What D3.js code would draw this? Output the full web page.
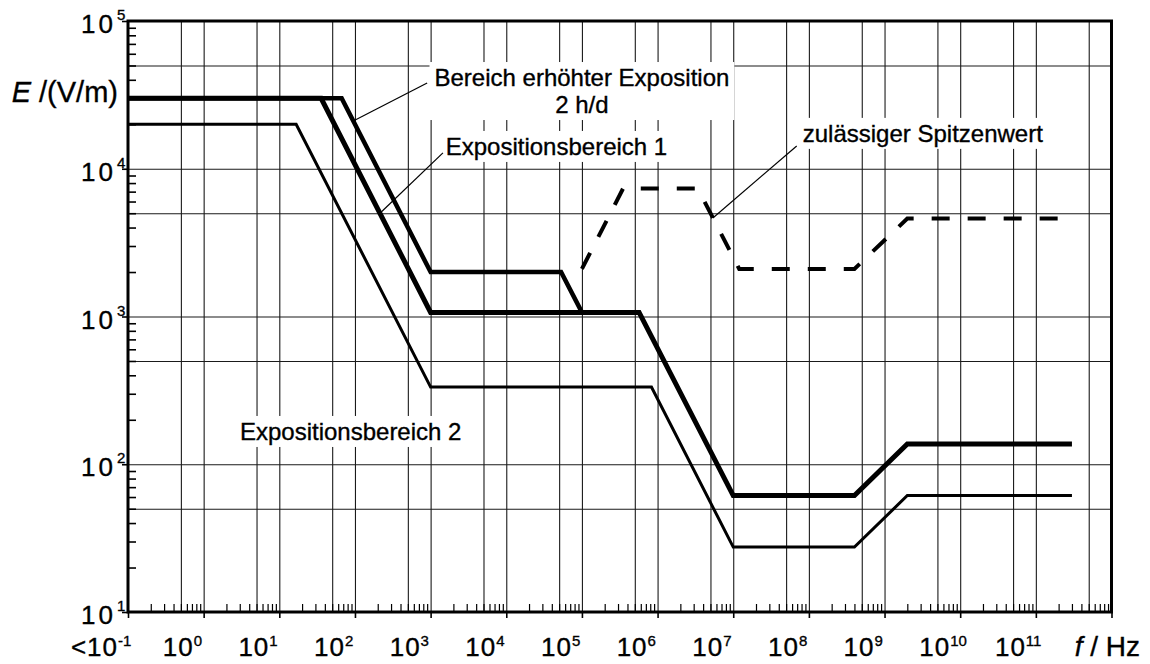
<!DOCTYPE html>
<html>
<head>
<meta charset="utf-8">
<script src="https://cdn.jsdelivr.net/npm/d3@7"></script>
<style>
  body { margin: 0; background: #fff; }
  text { font-family: "Liberation Sans", Arial, sans-serif; fill: #000; stroke: #000; stroke-width: 0.35px; }
</style>
</head>
<body>
<svg id="chart" width="1150" height="664"></svg>
<script>
// DATA (frequency in Hz, field strength in V/m)
let exp2Freq = [0.1, 16.7, 1e3, 8.3e5, 1e7, 4e8, 2e9, 3e11]
let exp2E    = [20000, 20000, 333, 333, 27.5, 27.5, 61.4, 61.4]

let exp1Freq = [0.1, 35.7, 1e3, 5.7e5, 1e7, 4e8, 2e9, 3e11]
let exp1E    = [30000, 30000, 1066, 1066, 61.4, 61.4, 137, 137]

let erhFreq  = [0.1, 66.7, 1e3, 5.3e4, 1e5]
let erhE     = [30000, 30000, 2000, 2000, 1066]

let peakFreq = [1e5, 3.5e5, 3.4e6, 1.2e7, 4e8, 2e9, 3e11]
let peakE    = [2100, 7350, 7350, 2100, 2100, 4600, 4600]

let xExponents = [-1, 0, 1, 2, 3, 4, 5, 6, 7, 8, 9, 10, 11]
let xLabels = ['<10', '10', '10', '10', '10', '10', '10', '10', '10', '10', '10', '10', '10']
let yExponents = [1, 2, 3, 4, 5]

let W = 1150, H = 664
let margin = { top: 21, right: 38.5, bottom: 52, left: 128 }
let width = W - margin.left - margin.right
let height = H - margin.top - margin.bottom

let x = d3.scaleLog().domain([0.1, 1e12]).range([0, width])
let y = d3.scaleLog().domain([10, 1e5]).range([height, 0])

let svg = d3.select('#chart')
let g = svg.append('g')
  .attr('transform', 'translate(' + margin.left + ',' + margin.top + ')')

// GRID LINES (each decade and 5 x decade)
let gridX = []
xExponents.forEach(k => {
  if (k > -1) gridX.push(Math.pow(10, k))
  gridX.push(5 * Math.pow(10, k))
})
let gridY = []
yExponents.slice(0, 4).forEach(k => {
  if (k > 1) gridY.push(Math.pow(10, k))
  gridY.push(5 * Math.pow(10, k))
})

let gx = g.append('g')
  .call(d3.axisBottom(x).tickValues(gridX).tickSize(height).tickFormat(''))
let gy = g.append('g')
  .call(d3.axisLeft(y).tickValues(gridY).tickSize(-width).tickFormat(''))
gx.selectAll('.domain').remove()
gy.selectAll('.domain').remove()
g.selectAll('.tick line').attr('stroke', '#1a1a1a').attr('stroke-width', 1.1)

// MINOR TICKS (inside)
let minorX = []
xExponents.forEach(k => {
  for (let m = 2; m <= 9; m++) minorX.push(m * Math.pow(10, k))
})
let minorY = []
yExponents.slice(0, 4).forEach(k => {
  for (let m = 2; m <= 9; m++) minorY.push(m * Math.pow(10, k))
})
let mx = g.append('g').attr('transform', 'translate(0,' + height + ')')
  .call(d3.axisBottom(x).tickValues(minorX).tickSize(-8).tickFormat(''))
let my = g.append('g')
  .call(d3.axisLeft(y).tickValues(minorY).tickSize(-8).tickFormat(''))
mx.selectAll('.domain').remove()
my.selectAll('.domain').remove()
mx.selectAll('line').attr('stroke', '#000').attr('stroke-width', 1.2)
my.selectAll('line').attr('stroke', '#000').attr('stroke-width', 1.6)

// MAJOR TICKS (outside)
let majorX = xExponents.map(k => Math.pow(10, k)).concat([1e12])
let majorY = yExponents.map(k => Math.pow(10, k))
let ax = g.append('g').attr('transform', 'translate(0,' + height + ')')
  .call(d3.axisBottom(x).tickValues(majorX).tickSize(6).tickFormat(''))
let ay = g.append('g')
  .call(d3.axisLeft(y).tickValues(majorY).tickSize(6).tickFormat(''))
ax.selectAll('.domain').remove()
ay.selectAll('.domain').remove()
ax.selectAll('line').attr('stroke', '#000').attr('stroke-width', 1.6)
ay.selectAll('line').attr('stroke', '#000').attr('stroke-width', 1.6)

// TICK LABELS
xExponents.forEach((k, i) => {
  let px = x(Math.pow(10, k))
  g.append('text')
    .attr('x', px - 10).attr('y', height + 44)
    .attr('text-anchor', 'end')
    .style('font-size', '26px').style('letter-spacing', '1px')
    .text(xLabels[i])
  g.append('text')
    .attr('x', px - 10).attr('y', height + 34)
    .style('font-size', '15px')
    .text(k)
})
yExponents.forEach(k => {
  let py = y(Math.pow(10, k))
  g.append('text')
    .attr('x', -12).attr('y', py + 12)
    .attr('text-anchor', 'end')
    .style('font-size', '26px').style('letter-spacing', '3px')
    .text('10')
  g.append('text')
    .attr('x', -11).attr('y', py - 1)
    .style('font-size', '15px')
    .text(k)
})

// AXIS TITLES
let yTitle = svg.append('text')
  .attr('x', 118).attr('y', 102)
  .attr('text-anchor', 'end')
  .style('font-size', '29px')
yTitle.append('tspan').style('font-style', 'italic').text('E')
yTitle.append('tspan').text(' /(V/m)')

let xTitle = svg.append('text')
  .attr('x', 1140).attr('y', 656)
  .attr('text-anchor', 'end')
  .style('font-size', '28px')
xTitle.append('tspan').style('font-style', 'italic').text('f')
xTitle.append('tspan').text(' / Hz')

// LABELS WITH WHITE BOX
function addLabel (lines, f, e, anchor) {
  let lg = g.append('g')
  let t = lg.append('text')
    .attr('text-anchor', anchor)
    .style('font-size', '24px')
  lines.forEach((line, i) => {
    t.append('tspan')
      .attr('x', x(f)).attr('y', y(e) + i * 27)
      .text(line)
  })
  let bb = t.node().getBBox()
  lg.insert('rect', 'text')
    .attr('x', bb.x - 5).attr('y', bb.y - 2)
    .attr('width', bb.width + 10).attr('height', bb.height + 4)
    .attr('fill', '#fff')
}

addLabel(['Bereich erhöhter Exposition', '2 h/d'], 1e5, 36300, 'middle')
addLabel(['Expositionsbereich 1'], 1585, 12400, 'start')
addLabel(['zulässiger Spitzenwert'], 8.3e7, 15200, 'start')
addLabel(['Expositionsbereich 2'], 3.02, 146, 'start')

// CURVES
let line = d3.line()
  .x(d => x(d[0]))
  .y(d => y(d[1]))

function zipData (fs, es) {
  return fs.map((f, i) => [f, es[i]])
}

g.append('path')
  .datum(zipData(exp2Freq, exp2E))
  .attr('d', line)
  .attr('fill', 'none').attr('stroke', '#000').attr('stroke-width', 3)

g.append('path')
  .datum(zipData(erhFreq, erhE))
  .attr('d', line)
  .attr('fill', 'none').attr('stroke', '#000').attr('stroke-width', 4.5)

g.append('path')
  .datum(zipData(exp1Freq, exp1E))
  .attr('d', line)
  .attr('fill', 'none').attr('stroke', '#000').attr('stroke-width', 5)

g.append('path')
  .datum(zipData(peakFreq, peakE))
  .attr('d', line)
  .attr('fill', 'none').attr('stroke', '#000').attr('stroke-width', 4)
  .attr('stroke-dasharray', '18,18')

// LEADER LINES
let leaders = [
  [[900, 38000], [95, 21060]],
  [[1455, 12800], [214, 5000]],
  [[6.9e7, 14260], [5.38e6, 4645]]
]
leaders.forEach(l => {
  g.append('path')
    .datum(l)
    .attr('d', line)
    .attr('stroke', '#000').attr('stroke-width', 1.2)
})

// FRAME
g.append('rect')
  .attr('width', width).attr('height', height)
  .attr('fill', 'none').attr('stroke', '#000').attr('stroke-width', 3)
</script>
</body>
</html>
